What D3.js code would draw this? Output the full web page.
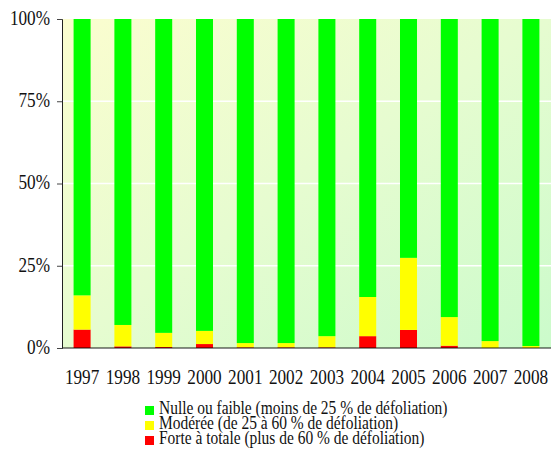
<!DOCTYPE html>
<html lang="fr">
<head>
<meta charset="utf-8">
<title>Défoliation 1997-2008</title>
<script src="https://d3js.org/d3.v7.min.js"></script>
<style>
  body { margin: 0; background: #fff; }
  text { font-family: "Liberation Serif", "Times New Roman", serif; fill: #111; }
</style>
</head>
<body>
<div id="chart"></div>
<script>
// values, in % of trees
const years = ["1997", "1998", "1999", "2000", "2001", "2002", "2003", "2004", "2005", "2006", "2007", "2008"];
const forte = [5.6, 0.5, 0.3, 1.2, 0.2, 0.2, 0.2, 3.6, 5.5, 0.7, 0, 0];
const moderee = [10.4, 6.5, 4.3, 4.0, 1.3, 1.3, 3.4, 11.9, 21.9, 8.7, 2.1, 0.6];
const yTicks = [0, 25, 50, 75, 100];
const classes = ["forte", "moderee", "nulle"];
const colors = { nulle: "#00ff00", moderee: "#ffff00", forte: "#ff0000" };
const legendLabels = [
  ["nulle", "Nulle ou faible (moins de 25 % de défoliation)"],
  ["moderee", "Modérée (de 25 à 60 % de défoliation)"],
  ["forte", "Forte à totale (plus de 60 % de défoliation)"]
];

const rows = years.map((y, i) => ({
  year: y,
  forte: forte[i],
  moderee: moderee[i],
  nulle: 100 - forte[i] - moderee[i]
}));

const W = 551, H = 450;
const plot = { left: 62, right: 551, top: 19, bottom: 348 };
const squeeze = 0.86; // the original text is narrower than Times

const svg = d3.select("#chart").append("svg")
  .attr("width", W).attr("height", H);

const grad = svg.append("defs").append("linearGradient")
  .attr("id", "bg").attr("x1", "0").attr("y1", "0").attr("x2", "1").attr("y2", "1");
grad.append("stop").attr("offset", "0").attr("stop-color", "#fbfdcf");
grad.append("stop").attr("offset", "0.5").attr("stop-color", "#e6fcd0");
grad.append("stop").attr("offset", "1").attr("stop-color", "#cbfbcb");

const x = d3.scaleBand().domain(years).range([plot.left, plot.right])
  .paddingInner(0.583).paddingOuter(0.284);
const y = d3.scaleLinear().domain([0, 100]).range([plot.bottom, plot.top]);

svg.append("rect")
  .attr("x", plot.left).attr("y", plot.top)
  .attr("width", plot.right - plot.left).attr("height", plot.bottom - plot.top)
  .attr("fill", "url(#bg)");

// white grid lines
svg.append("g").selectAll("line")
  .data(yTicks.filter(t => t > 0 && t < 100))
  .join("line")
  .attr("x1", plot.left).attr("x2", plot.right)
  .attr("y1", d => y(d)).attr("y2", d => y(d))
  .attr("stroke", "#fff").attr("stroke-width", 1.5);

const stack = d3.stack().keys(classes)(rows);

svg.append("g").selectAll("g")
  .data(stack)
  .join("g")
  .attr("fill", d => colors[d.key])
  .selectAll("rect")
  .data(d => d)
  .join("rect")
  .attr("x", d => x(d.data.year))
  .attr("width", x.bandwidth())
  .attr("y", d => y(d[1]))
  .attr("height", d => y(d[0]) - y(d[1]));

// bottom line
svg.append("line")
  .attr("x1", plot.left).attr("x2", plot.right)
  .attr("y1", plot.bottom).attr("y2", plot.bottom)
  .attr("stroke", "#000").attr("stroke-opacity", 0.45).attr("stroke-width", 2);

// y axis
const yAxis = svg.append("g")
  .attr("transform", `translate(${plot.left},0)`)
  .call(d3.axisLeft(y).tickValues(yTicks).tickFormat(d => d + "%").tickSize(5).tickPadding(7));
yAxis.select(".domain").attr("stroke", "#222");
yAxis.selectAll(".tick line").attr("stroke", "#444");
yAxis.selectAll("text")
  .attr("font-size", 20)
  .attr("font-family", null)
  .attr("fill", "#111")
  .attr("x", -12 / squeeze)
  .attr("dy", "0.27em")
  .attr("transform", `scale(${squeeze},1)`);

// x axis (text sits inside each translated tick, so the squeeze keeps it centred)
const xAxis = svg.append("g")
  .attr("transform", `translate(0,${plot.bottom})`)
  .call(d3.axisBottom(x).tickSize(0).tickPadding(0));
xAxis.select(".domain").remove();
xAxis.selectAll("text")
  .attr("font-size", 20)
  .attr("font-family", null)
  .attr("fill", "#111")
  .attr("y", 36)
  .attr("dy", 0)
  .attr("x", 0)
  .attr("transform", `scale(${squeeze},1)`);

// legend
const legend = svg.append("g");
const item = legend.selectAll("g")
  .data(legendLabels)
  .join("g")
  .attr("transform", (d, i) => `translate(145,${414 + i * 15})`);
item.append("rect")
  .attr("x", 0).attr("y", -8)
  .attr("width", 9).attr("height", 9)
  .attr("fill", d => colors[d[0]]);
item.append("text")
  .attr("font-size", 18)
  .attr("transform", `scale(${squeeze},1)`)
  .attr("x", 14 / squeeze)
  .text(d => d[1]);
</script>
</body>
</html>
